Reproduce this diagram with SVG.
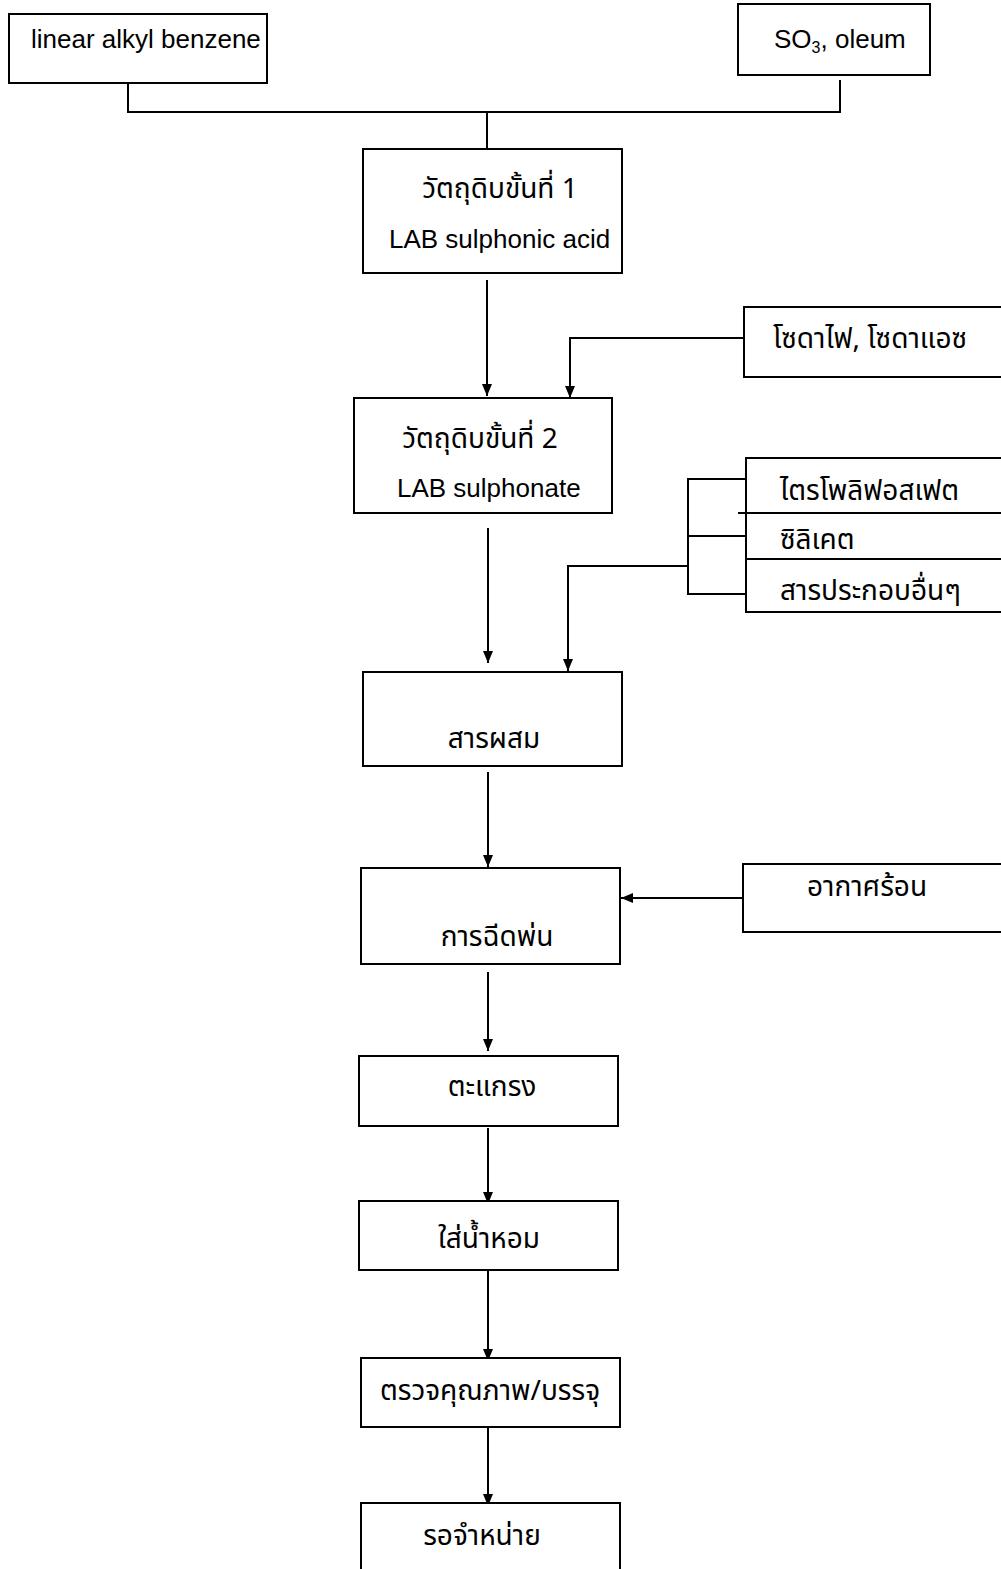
<svg xmlns="http://www.w3.org/2000/svg" width="1001" height="1569" viewBox="0 0 1001 1569">
<style>
rect.box{fill:#fff;stroke:#000;stroke-width:2}
.ln{fill:none;stroke:#000;stroke-width:2}
.lat{font-family:"Liberation Sans",Arial,sans-serif;font-size:26px;fill:#000}
.th{font-family:"Noto Sans Thai","Noto Sans","Liberation Sans",sans-serif;font-size:28px;fill:#000}
</style>
<defs>
<marker id="ah" viewBox="0 0 12 10" refX="12" refY="5" markerWidth="12" markerHeight="10" markerUnits="userSpaceOnUse" orient="auto">
<path d="M0,0 L12,5 L0,10 z" fill="#000"/>
</marker>
</defs>
<g id="connectors">
<path class="ln" d="M128,83 V112 H840 V80"/>
<path class="ln" d="M487,112 V149"/>
<path class="ln" d="M487,280 V396" marker-end="url(#ah)"/>
<path class="ln" d="M744,338 H570 V398" marker-end="url(#ah)"/>
<path class="ln" d="M488,528 V663" marker-end="url(#ah)"/>
<path class="ln" d="M746,479 H688 V594 H746 M688,536 H746 M688,566 H568 V671" marker-end="url(#ah)"/>
<path class="ln" d="M488,772 V867" marker-end="url(#ah)"/>
<path class="ln" d="M743,898 H621" marker-end="url(#ah)"/>
<path class="ln" d="M488,972 V1051" marker-end="url(#ah)"/>
<path class="ln" d="M488,1128 V1204" marker-end="url(#ah)"/>
<path class="ln" d="M488,1270 V1361" marker-end="url(#ah)"/>
<path class="ln" d="M488,1427 V1506" marker-end="url(#ah)"/>
</g>
<g id="n-lab">
<rect class="box" x="9" y="14" width="258" height="69"/>
<text class="lat" x="31" y="48">linear alkyl benzene</text>
</g>
<g id="n-so3">
<rect class="box" x="738" y="4" width="192" height="71"/>
<text class="lat" x="774" y="48">SO<tspan font-size="16" dy="5">3</tspan><tspan dy="-5">, oleum</tspan></text>
</g>
<g id="n-step1">
<rect class="box" x="363" y="149" width="259" height="124"/>
<text class="th" x="500" y="198" text-anchor="middle">วัตถุดิบขั้นที่ 1</text>
<text class="lat" x="389" y="248">LAB sulphonic acid</text>
</g>
<g id="n-soda">
<rect class="box" x="744" y="307" width="262" height="70"/>
<text class="th" x="773" y="348">โซดาไฟ, โซดาแอซ</text>
</g>
<g id="n-step2">
<rect class="box" x="354" y="398" width="258" height="115"/>
<text class="th" x="480" y="448" text-anchor="middle">วัตถุดิบขั้นที่ 2</text>
<text class="lat" x="397" y="497">LAB sulphonate</text>
</g>
<g id="n-additives">
<rect class="box" x="746" y="458" width="260" height="154"/>
<path class="ln" d="M738,513 H1006 M746,559 H1006"/>
<text class="th" x="780" y="500">ไตรโพลิฟอสเฟต</text>
<text class="th" x="780" y="549">ซิลิเคต</text>
<text class="th" x="780" y="600">สารประกอบอื่นๆ</text>
</g>
<g id="n-mix">
<rect class="box" x="363" y="672" width="259" height="94"/>
<text class="th" x="494" y="748" text-anchor="middle">สารผสม</text>
</g>
<g id="n-spray">
<rect class="box" x="361" y="868" width="259" height="96"/>
<text class="th" x="497" y="946" text-anchor="middle">การฉีดพ่น</text>
</g>
<g id="n-hotair">
<rect class="box" x="743" y="864" width="263" height="68"/>
<text class="th" x="867" y="896" text-anchor="middle">อากาศร้อน</text>
</g>
<g id="n-sieve">
<rect class="box" x="359" y="1056" width="259" height="70"/>
<text class="th" x="492" y="1096" text-anchor="middle">ตะแกรง</text>
</g>
<g id="n-perfume">
<rect class="box" x="359" y="1201" width="259" height="69"/>
<text class="th" x="489" y="1248" text-anchor="middle">ใส่น้ำหอม</text>
</g>
<g id="n-qc">
<rect class="box" x="361" y="1358" width="259" height="69"/>
<text class="th" x="490" y="1400" text-anchor="middle">ตรวจคุณภาพ/บรรจุ</text>
</g>
<g id="n-sale">
<rect class="box" x="361" y="1503" width="259" height="80"/>
<text class="th" x="482" y="1545" text-anchor="middle">รอจำหน่าย</text>
</g>
</svg>
